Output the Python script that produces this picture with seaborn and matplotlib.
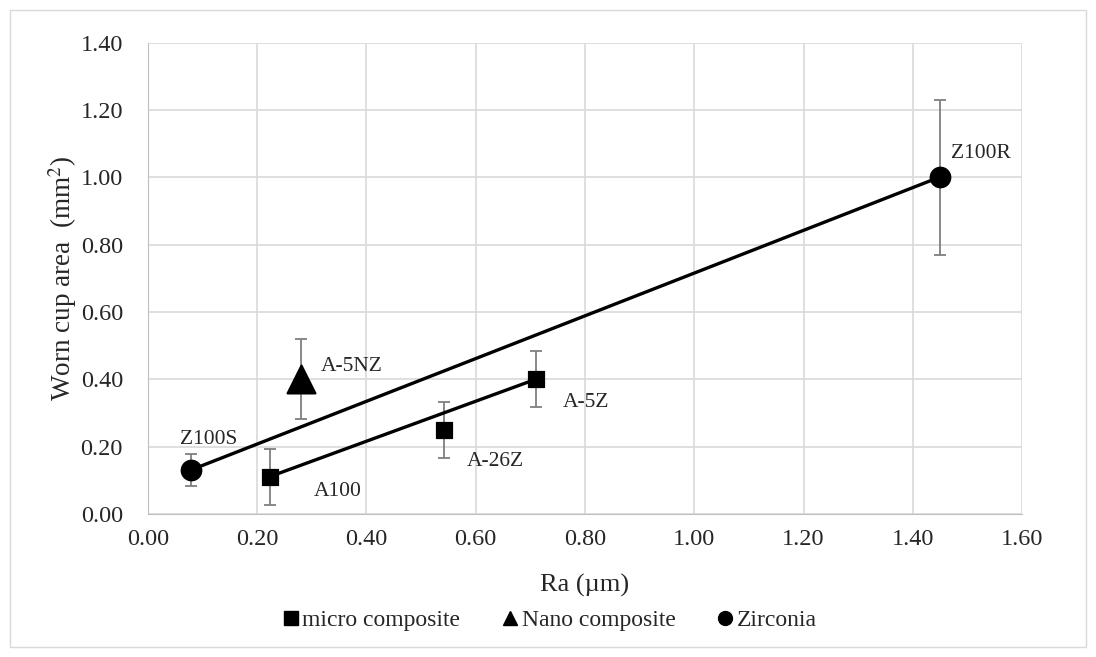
import pandas as pd
import numpy as np
import matplotlib.pyplot as plt
from matplotlib.patches import Rectangle
from matplotlib.lines import Line2D
import seaborn as sns

# Values
samples = ['A100', 'A-26Z', 'A-5Z', 'A-5NZ', 'Z100S', 'Z100R']
groups = ['micro composite', 'micro composite', 'micro composite',
          'Nano composite', 'Zirconia', 'Zirconia']
ra = [0.223, 0.541, 0.711, 0.280, 0.079, 1.449]
area = [0.111, 0.250, 0.401, 0.401, 0.131, 1.001]
area_err = [0.083, 0.083, 0.084, 0.120, 0.047, 0.230]

df = pd.DataFrame({'sample': samples, 'group': groups, 'ra': ra,
                   'area': area, 'err': area_err})

sns.set_style('white')
plt.rcParams['font.family'] = ['Liberation Serif', 'DejaVu Serif']
plt.rcParams['mathtext.fontset'] = 'stix'

fig = plt.figure(figsize=(10.96, 6.57), dpi=100)
ax = fig.add_axes([0.135, 0.2177, 0.7975, 0.717])

# outer chart border
fig.patches.append(Rectangle((10 / 1096, 10 / 657), 1076 / 1096, 637 / 657,
                             transform=fig.transFigure, fill=False,
                             edgecolor='#d9d9d9', linewidth=1))

# connecting lines (first to last point of each line series)
for g in ['micro composite', 'Zirconia']:
    sub = df[df['group'] == g]
    ax.plot(sub['ra'].iloc[[0, -1]], sub['area'].iloc[[0, -1]],
            color='black', linewidth=2.4, zorder=2)

ax.errorbar(df['ra'], df['area'], yerr=df['err'], fmt='none',
            ecolor='#7f7f7f', elinewidth=1.3, capsize=4, capthick=1.3, zorder=1)

markers = {'micro composite': 's', 'Nano composite': '^', 'Zirconia': 'o'}
sizes = {'micro composite': 120, 'Nano composite': 400, 'Zirconia': 210}
for g, m in markers.items():
    sub = df[df['group'] == g]
    sns.scatterplot(data=sub, x='ra', y='area', marker=m, s=sizes[g],
                    color='black', edgecolor='black', ax=ax, zorder=3,
                    legend=False)

offsets = {'A100': (32, -11), 'A-26Z': (17, -23), 'A-5Z': (19, -17),
           'A-5NZ': (14, 9), 'Z100S': (-8, 22), 'Z100R': (8, 17)}
for _, r in df.iterrows():
    ax.annotate(r['sample'], (r['ra'], r['area']), xytext=offsets[r['sample']],
                textcoords='offset points', fontsize=15.5,
                ha='left', va='center')

ax.set_xlim(0, 1.6)
ax.set_ylim(0, 1.4)
ax.set_xticks(np.arange(0, 1.61, 0.2))
ax.set_yticks(np.arange(0, 1.41, 0.2))
ax.xaxis.set_major_formatter(plt.FormatStrFormatter('%.2f'))
ax.yaxis.set_major_formatter(plt.FormatStrFormatter('%.2f'))
ax.tick_params(labelsize=17.5, length=0)
ax.tick_params(axis='x', pad=11)
ax.tick_params(axis='y', pad=18)
ax.grid(True, color='#d9d9d9', linewidth=1.2)
ax.set_axisbelow(True)
for s in ['top', 'right']:
    ax.spines[s].set_visible(False)
ax.spines['left'].set_color('#bfbfbf')
ax.spines['bottom'].set_color('#bfbfbf')

ax.set_xlabel('Ra (µm)', fontsize=19, va='center')
ax.xaxis.set_label_coords(0.5, -0.151)
ax.set_ylabel('Worn cup area  (mm$^2$)', fontsize=19.5, va='center')
ax.yaxis.set_label_coords(-0.098, 0.5)

handles = [Line2D([], [], linestyle='none', marker=markers[g], color='black',
                  markersize=10) for g in markers]
fig.legend(handles, list(markers), loc='center', bbox_to_anchor=(0.5, 0.0563),
           ncol=3, frameon=False, prop={'size': 17}, handlelength=1.0,
           handletextpad=0.0, columnspacing=1.6)

fig.savefig('out.png', dpi=100)
